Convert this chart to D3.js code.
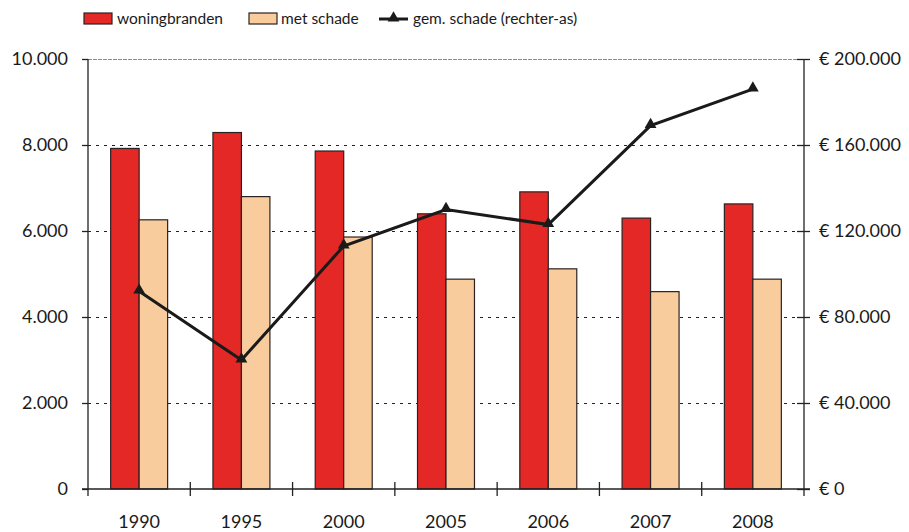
<html>
<head>
<script src="https://d3js.org/d3.v7.min.js"></script>
<style>
	body { margin: 0; background: #fff; }
	text { font-family: Lato, "Open Sans", sans-serif; fill: #1a1a1a; }
</style>
</head>
<body>
<div id="chart"></div>
<script>
var years = ["1990", "1995", "2000", "2005", "2006", "2007", "2008"]
var woningbranden = [7920, 8290, 7860, 6400, 6910, 6300, 6630]
var metSchade = [6260, 6800, 5860, 4880, 5120, 4590, 4880]
var gemSchade = [92000, 60000, 113000, 130000, 123000, 169000, 186000]
var leftTicks = [0, 2000, 4000, 6000, 8000, 10000]
var rightTicks = [0, 40000, 80000, 120000, 160000, 200000]
var seriesNames = ["woningbranden", "met schade", "gem. schade (rechter-as)"]

var width = 909, height = 532
var plotLeft = 88, plotRight = 804, plotTop = 59, plotBottom = 489

var nl = d3.formatLocale({ decimal: ",", thousands: ".", grouping: [3], currency: ["€", ""] })
var fmt = nl.format(",")

var svg = d3.select("#chart").append("svg")
	.attr("width", width)
	.attr("height", height)

var x = d3.scaleBand().domain(years).range([plotLeft, plotRight])
	.paddingInner(0.443).paddingOuter(0.2215)
var xOuter = d3.scaleBand().domain(years).range([plotLeft, plotRight])
var xSub = d3.scaleBand().domain([0, 1]).range([0, x.bandwidth()])
var yL = d3.scaleLinear().domain([0, 10000]).range([plotBottom, plotTop])
var yR = d3.scaleLinear().domain([0, 200000]).range([plotBottom, plotTop])

// dotted gridlines
svg.append("g")
	.selectAll("line")
	.data(leftTicks.filter(function(d){ return d > 0 }))
	.enter().append("line")
	.attr("x1", plotLeft).attr("x2", plotRight)
	.attr("y1", function(d){ return yL(d) + 0.5 })
	.attr("y2", function(d){ return yL(d) + 0.5 })
	.style("stroke", function(d){ return d == 10000 ? "#8a8a8a" : "#222" })
	.style("stroke-width", 1)
	.style("shape-rendering", "crispEdges")
	.style("stroke-dasharray", function(d){ return d == 10000 ? "4,1" : "3,5" })

// bars
var groups = svg.append("g").selectAll("g")
	.data(years)
	.enter().append("g")
	.attr("transform", function(d){ return "translate(" + x(d) + ",0)" })

groups.append("rect")
	.attr("x", xSub(0))
	.attr("width", xSub.bandwidth())
	.attr("y", function(d, i){ return yL(woningbranden[i]) })
	.attr("height", function(d, i){ return plotBottom - yL(woningbranden[i]) })
	.style("fill", "#e32826")
	.style("stroke", "#2b2222")
	.style("stroke-width", 1.2)

groups.append("rect")
	.attr("x", xSub(1))
	.attr("width", xSub.bandwidth())
	.attr("y", function(d, i){ return yL(metSchade[i]) })
	.attr("height", function(d, i){ return plotBottom - yL(metSchade[i]) })
	.style("fill", "#f9cc9d")
	.style("stroke", "#2b2222")
	.style("stroke-width", 1.2)

// axes
var axisStyle = function(g){
	g.selectAll("path, line").style("stroke", "#222").style("stroke-width", 1.3)
	g.selectAll("text").style("font-size", "18px").style("fill", "#1a1a1a").style("font-family", "Lato, sans-serif")
}

svg.append("g")
	.attr("transform", "translate(" + plotLeft + ",0)")
	.call(d3.axisLeft(yL).tickValues(leftTicks).tickFormat(fmt).tickSizeInner(6).tickSizeOuter(0).tickPadding(14))
	.call(axisStyle)
	.call(function(g){ g.select(".domain").attr("d", "M0," + plotTop + "V" + (plotBottom + 7)) })

svg.append("g")
	.attr("transform", "translate(" + plotRight + ",0)")
	.call(d3.axisRight(yR).tickValues(rightTicks).tickFormat(function(d){ return "€ " + fmt(d) }).tickSizeInner(6).tickSizeOuter(0).tickPadding(9))
	.call(axisStyle)
	.call(function(g){
		g.select(".domain").attr("d", "M0," + plotTop + "V" + (plotBottom + 7))
		g.selectAll(".tick line").attr("x1", -7)
	})

// bottom axis line + category boundary ticks
var bx = svg.append("g")
bx.append("line")
	.attr("x1", plotLeft - 6).attr("x2", plotRight + 6)
	.attr("y1", plotBottom).attr("y2", plotBottom)
	.style("stroke", "#222").style("stroke-width", 1.3)
bx.selectAll(".btick")
	.data(years.slice(1))
	.enter().append("line")
	.attr("class", "btick")
	.attr("x1", function(d){ return xOuter(d) })
	.attr("x2", function(d){ return xOuter(d) })
	.attr("y1", plotBottom - 7).attr("y2", plotBottom + 7)
	.style("stroke", "#222").style("stroke-width", 1.3)
bx.selectAll(".blabel")
	.data(years)
	.enter().append("text")
	.attr("class", "blabel")
	.attr("x", function(d){ return x(d) + x.bandwidth() / 2 })
	.attr("y", 528)
	.attr("text-anchor", "middle")
	.style("font-size", "18px")
	.text(function(d){ return d })

// line on the right axis
var line = d3.line()
	.x(function(d, i){ return x(years[i]) + x.bandwidth() / 2 })
	.y(function(d){ return yR(d) })

svg.append("path")
	.datum(gemSchade)
	.attr("d", line)
	.style("fill", "none")
	.style("stroke", "#1a1a1a")
	.style("stroke-width", 3)

var tri = d3.symbol().type(d3.symbolTriangle).size(60)
svg.append("g").selectAll("path")
	.data(gemSchade)
	.enter().append("path")
	.attr("d", tri)
	.attr("transform", function(d, i){ return "translate(" + (x(years[i]) + x.bandwidth() / 2) + "," + (yR(d) - 1) + ")" })
	.style("fill", "#1a1a1a")

// legend
var legend = svg.append("g")
legend.append("rect").attr("x", 84).attr("y", 13).attr("width", 28).attr("height", 11)
	.style("fill", "#e32826").style("stroke", "#2b2222").style("stroke-width", 1.2)
legend.append("text").attr("x", 117).attr("y", 24).style("font-size", "15.5px").text(seriesNames[0])
legend.append("rect").attr("x", 249).attr("y", 13).attr("width", 28).attr("height", 11)
	.style("fill", "#f9cc9d").style("stroke", "#2b2222").style("stroke-width", 1.2)
legend.append("text").attr("x", 281).attr("y", 24).style("font-size", "15.5px").text(seriesNames[1])
legend.append("line").attr("x1", 379).attr("x2", 408).attr("y1", 19).attr("y2", 19)
	.style("stroke", "#1a1a1a").style("stroke-width", 3)
legend.append("path").attr("d", tri).attr("transform", "translate(393.5,18)").style("fill", "#1a1a1a")
legend.append("text").attr("x", 413).attr("y", 24).style("font-size", "15.5px").text(seriesNames[2])
</script>
</body>
</html>
